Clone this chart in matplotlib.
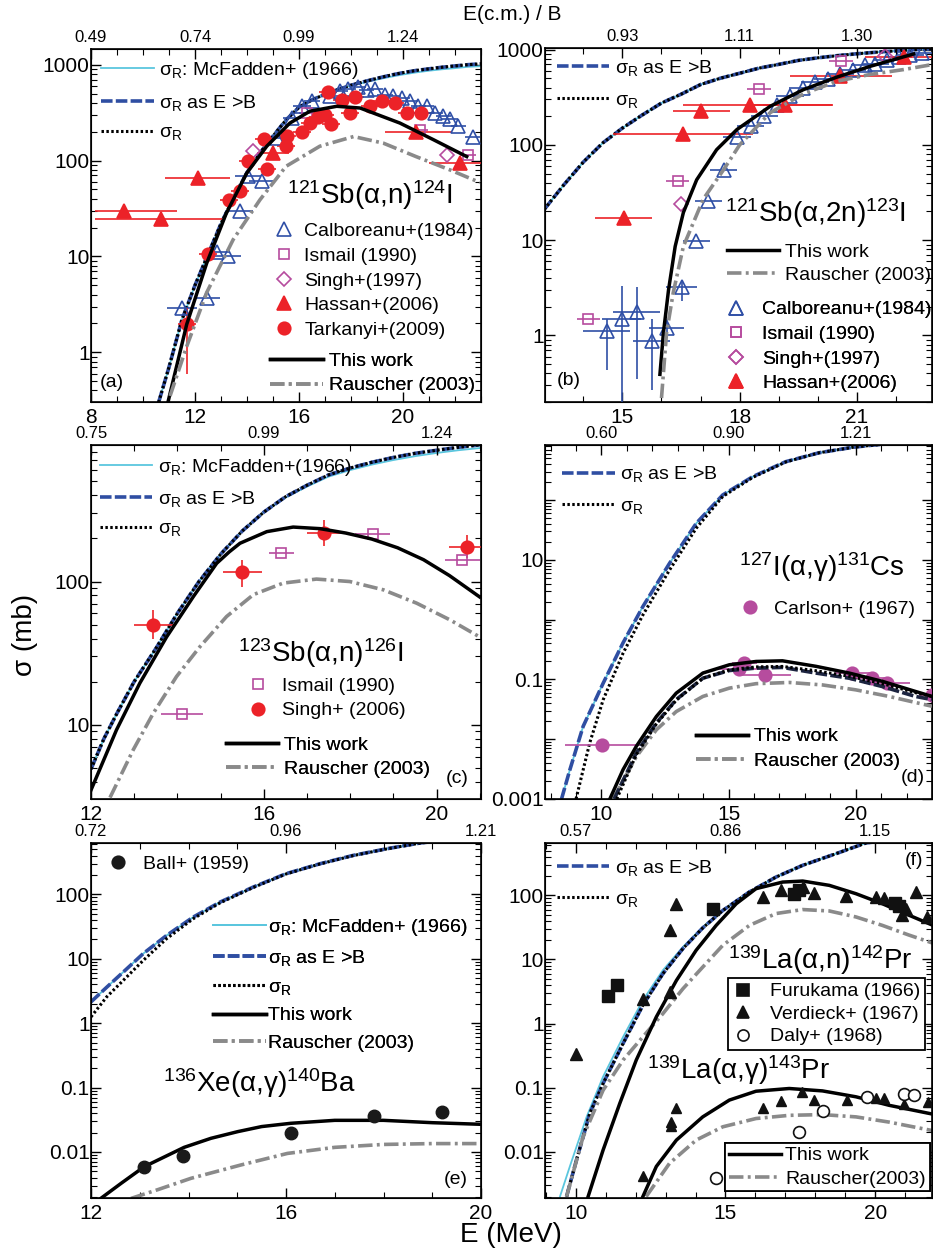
import matplotlib
matplotlib.use('Agg')
import matplotlib.pyplot as plt
from matplotlib.lines import Line2D
from matplotlib.ticker import MultipleLocator, LogLocator, FuncFormatter, NullFormatter

plt.rcParams['font.family'] = ['Liberation Sans', 'DejaVu Sans']
plt.rcParams['mathtext.fontset'] = 'custom'
plt.rcParams['mathtext.rm'] = 'Liberation Sans'
plt.rcParams['mathtext.it'] = 'Liberation Sans:italic'

# ---------------- data (E in MeV, sigma in mb) ----------------
# (a) 121Sb + alpha reaction cross section
a_sig_E = [10.6, 11.0, 11.5, 12.0, 12.5, 13.0, 13.5, 14.0, 14.5, 15.0, 15.5, 16.0, 16.5,
           17.0, 17.5, 18.0, 18.5, 19.0, 19.5, 20.0, 20.5, 21.0, 21.5, 22.0, 22.5, 23.0]
a_sigR = [0.3, 0.7, 2.2, 5.0, 10.5, 22, 42, 75, 120, 180, 265, 360, 430,
          490, 550, 610, 665, 720, 775, 825, 870, 905, 940, 970, 1000, 1020]
a_mcf = [0.3, 0.7, 2.2, 5.0, 10.5, 22, 42, 75, 120, 180, 265, 360, 430,
         490, 550, 605, 650, 700, 745, 790, 830, 865, 895, 920, 950, 965]

# (b) 121Sb + alpha reaction cross section
b_sig_E = [13.0, 13.5, 14.0, 14.5, 15.0, 15.5, 16.0, 16.5, 17.0, 17.5, 18.0, 18.5, 19.0,
           19.5, 20.0, 20.5, 21.0, 21.5, 22.0, 22.5, 23.0]
b_sigR = [21, 38, 66, 105, 150, 205, 275, 340, 430, 500, 565, 640, 700,
          770, 820, 865, 905, 940, 970, 1000, 1020]

# (a) 121Sb(a,n)124I
a_this_E = [10.97, 11.68, 12.45, 13.2, 13.99, 14.76, 15.65, 16.42, 17.45, 18.35, 19.88, 21.17, 22.45]
a_this_s = [0.31, 1.95, 8.5, 28, 74, 141, 246, 327, 368, 353, 246, 165, 110]
a_raus_E = [11.04, 11.68, 12.45, 13.47, 14.5, 15.5, 16.8, 18.1, 19.24, 20.5, 21.8, 22.96]
a_raus_s = [0.35, 1.15, 4.2, 15, 39, 87, 141, 178, 152, 110, 80, 59]
a_calb_E = [11.49, 12.45, 12.83, 13.28, 13.73, 14.05, 14.56, 15.14, 15.72, 16.1, 16.49, 17.19, 17.58,
            17.9, 18.28, 18.6, 18.92, 19.3, 19.63, 19.95, 20.27, 20.59, 20.91, 21.23, 21.55, 21.8, 22.13, 22.68]
a_calb_s = [2.9, 3.7, 11.2, 10, 30, 69, 61, 172, 276, 367, 420, 467, 525,
            560, 590, 550, 560, 485, 467, 450, 415, 373, 367, 313, 290, 270, 232, 178]
a_calb_dx = [0.58, 0.5, 0.5, 0.5, 0.5, 0.5, 0.5, 0.4, 0.35, 0.35, 0.3, 0.3, 0.3,
             0.3, 0.3, 0.3, 0.3, 0.3, 0.3, 0.3, 0.3, 0.3, 0.3, 0.3, 0.3, 0.3, 0.3, 0.3]
a_ism_E = [16.3, 20.65, 22.5]
a_ism_s = [315, 210, 114]
a_sing_E = [14.24, 21.68]
a_sing_s = [125, 115]
a_hass_E = [9.27, 10.69, 12.12, 15.0, 20.5, 22.2]
a_hass_s = [30, 24.5, 66, 120, 200, 94]
a_hass_lo = [1.12, 2.54, 1.27, 0.6, 1.2, 1.2]
a_hass_hi = [2.02, 2.4, 1.23, 0.6, 1.37, 0.8]
a_tark_E = [11.68, 12.5, 13.32, 13.73, 14.05, 14.76, 14.67, 15.5, 15.55, 16.13, 16.42, 16.74,
            17.0, 17.23, 17.13, 17.64, 17.96, 18.15, 18.73, 19.18, 19.69, 20.14, 20.68]
a_tark_s = [1.95, 10.5, 39, 48, 100, 82, 166, 141, 181, 200, 245, 282,
            300, 242, 516, 430, 317, 456, 367, 415, 400, 313, 310]
a_tark_dlo = [1.35, 1.5, 4, 5, 10, 8, 15, 13, 16, 18, 20, 22, 25, 20, 40, 35, 25, 35, 30, 30, 30, 25, 25]
a_tark_dhi = [0.95, 1.5, 4, 5, 10, 8, 15, 13, 16, 18, 20, 22, 25, 20, 40, 35, 25, 35, 30, 30, 30, 25, 25]

# (b) 121Sb(a,2n)123I
b_this_E = [15.96, 16.05, 16.18, 16.35, 16.56, 16.9, 17.41, 17.93, 18.78, 19.63, 20.49, 21.34, 22.45]
b_this_s = [0.39, 1.07, 3.0, 8.6, 19.5, 43, 89, 145, 254, 380, 515, 668, 900]
b_raus_E = [16.0, 16.13, 16.3, 16.56, 17.07, 17.59, 18.0, 18.78, 19.63, 20.49, 21.34, 22.19, 22.92]
b_raus_s = [0.22, 1.07, 2.8, 8.6, 27, 55, 100, 218, 343, 466, 549, 617, 696]
b_calb_E = [14.6, 14.98, 15.37, 15.75, 16.13, 16.52, 16.89, 17.2, 17.59, 17.93, 18.28, 18.63, 18.95,
            19.29, 19.62, 19.93, 20.25, 20.57, 20.89, 21.21, 21.47, 21.77, 22.07, 22.36, 22.66]
b_calb_s = [1.1, 1.5, 1.75, 0.87, 1.2, 3.2, 9.8, 25.7, 55, 121, 157, 200, 265,
            324, 398, 456, 490, 549, 617, 696, 708, 785, 837, 886, 923]
b_calb_dx = [0.6, 0.5, 0.6, 0.47, 0.45, 0.4, 0.35, 0.35, 0.35, 0.35, 0.35, 0.35, 0.35,
             0.35, 0.35, 0.35, 0.35, 0.35, 0.35, 0.35, 0.35, 0.35, 0.35, 0.35, 0.35]
b_calb_lo = [0.67, 1.3, 1.4, 0.6, 0.25, 0.9] + [0] * 19
b_calb_hi = [0.4, 1.8, 1.45, 0.6, 0.3, 0.6] + [0] * 19
b_ism_E = [14.13, 16.41, 18.5, 20.59]
b_ism_s = [1.48, 42, 390, 768]
b_sing_E = [16.49, 21.72]
b_sing_s = [24, 850]
b_hass_E = [15.03, 16.56, 17.0, 18.27, 19.16, 20.57, 22.2]
b_hass_s = [17.2, 129, 225, 265, 265, 534, 837]
b_hass_lo = [0.73, 1.79, 0.7, 1.71, 0.9, 1.27, 1.0]
b_hass_hi = [0.72, 1.79, 0.75, 2.13, 1.2, 1.33, 0.8]

# (c) 123Sb(a,n)126I
sb123_E = [12.0, 12.3, 12.6, 13.0, 13.5, 14.0, 14.5, 15.0, 15.5, 16.0, 16.5, 17.0, 17.5,
           18.0, 18.5, 19.0, 19.5, 20.0, 20.5, 21.0]
sb123_sigR = [4.9, 8.0, 12, 20, 34, 60, 100, 155, 225, 305, 390, 470, 555,
              620, 680, 735, 785, 825, 865, 900]
sb123_mcf = [4.9, 8.0, 12, 20, 34, 60, 100, 155, 225, 305, 385, 460, 540,
             600, 655, 705, 750, 790, 825, 855]
c_this_E = [12.0, 12.59, 13.13, 13.75, 14.37, 14.91, 15.2, 15.45, 16.07, 16.68, 17.3, 17.9, 18.5,
            19.1, 19.7, 20.3, 21.0]
c_this_s = [3.5, 9.2, 19.5, 41, 78.5, 134, 161, 185, 223, 240, 234, 218, 198, 172, 142, 110, 78]
c_raus_E = [12.44, 12.98, 13.44, 13.98, 14.52, 15.14, 15.76, 16.45, 17.22, 17.99, 18.77, 19.54, 20.31, 21.0]
c_raus_s = [3.1, 6.7, 12, 21.7, 35, 57, 81, 97.5, 104, 100, 87.5, 70.6, 54, 41]
c_ism_E = [14.11, 16.41, 18.52, 20.6]
c_ism_s = [11.8, 159, 215, 142]
c_ism_dx = [0.48, 0.3, 0.4, 0.4]
c_sing_E = [13.44, 15.5, 17.39, 20.7]
c_sing_s = [50, 116, 217, 175]
c_sing_dx = [0.45, 0.45, 0.4, 0.4]
c_sing_lo = [10, 24, 40, 30]
c_sing_hi = [13, 26, 50, 35]

# (d) 127I(a,g)131Cs
d_mcf_E = [8.43, 8.76, 9.28, 10.07, 10.85, 11.63, 12.68, 13.73, 14.77, 15.95, 17.25, 18.56, 19.87, 20.65, 23.0]
d_mcf_s = [0.001, 0.0031, 0.0164, 0.087, 0.41, 1.66, 8.8, 41, 122, 247, 440, 620, 763, 830, 1000]
d_sigR_E = [9.0, 9.54, 10.07, 10.85, 11.63, 12.68, 13.73, 14.77, 15.95, 17.25, 18.56, 19.87, 20.65, 23.0]
d_sigR_s = [0.001, 0.0087, 0.046, 0.275, 1.2, 6.8, 34, 115, 240, 435, 620, 763, 830, 1000]
d_this_E = [10.33, 10.85, 11.37, 12.16, 12.94, 13.99, 15.03, 16.08, 17.12, 18.43, 19.74, 21.05, 22.35, 23.0]
d_this_s = [0.001, 0.0031, 0.0076, 0.024, 0.059, 0.128, 0.176, 0.2, 0.205, 0.166, 0.128, 0.093, 0.063, 0.052]
d_eb_E = [10.5, 11.37, 12.16, 12.94, 13.99, 15.03, 16.08, 17.12, 18.43, 19.74, 21.05, 22.35, 23.0]
d_eb_s = [0.001, 0.0059, 0.0187, 0.046, 0.105, 0.141, 0.155, 0.159, 0.128, 0.105, 0.076, 0.052, 0.046]
d_dot_E = [10.6, 11.37, 12.16, 12.94, 13.99, 15.03, 16.08, 17.12, 18.43, 19.74, 21.05, 22.35, 23.0]
d_dot_s = [0.001, 0.0055, 0.018, 0.045, 0.105, 0.145, 0.162, 0.165, 0.14, 0.113, 0.085, 0.06, 0.052]
d_raus_E = [10.46, 11.37, 12.16, 12.94, 13.99, 15.03, 16.08, 17.39, 18.69, 20.0, 21.31, 23.0]
d_raus_s = [0.001, 0.0051, 0.0144, 0.029, 0.052, 0.0716, 0.085, 0.089, 0.081, 0.067, 0.052, 0.0356]
d_carl_E = [10.04, 15.42, 15.62, 16.44, 19.87, 20.65, 21.24, 23.0]
d_carl_s = [0.0081, 0.148, 0.187, 0.12, 0.128, 0.105, 0.087, 0.055]
d_carl_dx = [1.47, 1.0, 0.5, 1.0, 0.7, 0.7, 0.9, 0.5]

# (e) 136Xe(a,g)140Ba
e_E = [12.0, 12.32, 12.66, 13.07, 13.55, 14.1, 14.65, 15.33, 16.0, 16.7, 17.38, 18.07, 18.75, 20.0]
e_mcf_s = [2.14, 3.6, 6.2, 12, 23, 44.5, 76, 130, 209, 299, 403, 511, 627, 800]
e_sigR_s = [1.25, 2.55, 4.6, 9.4, 20.5, 42, 74, 128, 207, 297, 400, 508, 625, 800]
e_this_E = [12.2, 12.62, 13.09, 13.91, 14.46, 15.01, 15.5, 16.1, 17.0, 18.0, 19.0, 20.0]
e_this_s = [0.0019, 0.00327, 0.0059, 0.0118, 0.0163, 0.0207, 0.0248, 0.0279, 0.031, 0.031, 0.0285, 0.0269]
e_raus_E = [12.82, 13.37, 14.05, 15.08, 16.03, 17.0, 18.0, 19.0, 20.0]
e_raus_s = [0.0019, 0.0026, 0.0039, 0.0063, 0.0095, 0.0118, 0.0131, 0.0135, 0.0135]
e_ball_E = [13.09, 13.89, 16.1, 17.8, 19.2]
e_ball_s = [0.0058, 0.0087, 0.0197, 0.0363, 0.0417]

# (f) 139La(a,n)142Pr and 139La(a,g)143Pr
f_mcf_E = [9.47, 9.8, 10.36, 10.91, 11.58, 12.24, 12.91, 13.58, 14.24, 14.91, 15.8, 16.69, 17.58, 18.69, 19.69, 22.0]
f_mcf_s = [0.002, 0.0059, 0.035, 0.148, 0.62, 2.31, 6.8, 15.7, 32, 58, 113, 193, 294, 446, 655, 900]
f_sigR_E = [9.69, 10.02, 10.47, 10.91, 11.58, 12.24, 12.91, 13.58, 14.24, 14.91, 15.8, 16.69, 17.58, 18.69, 19.69, 22.0]
f_sigR_s = [0.002, 0.0074, 0.04, 0.116, 0.49, 1.93, 6.0, 14.8, 31, 58, 113, 193, 294, 446, 655, 900]
fn_this_E = [10.41, 10.91, 11.47, 12.02, 12.69, 13.36, 14.02, 14.69, 15.36, 16.02, 16.91, 17.58,
             18.47, 19.36, 20.24, 21.13, 22.0]
fn_this_s = [0.002, 0.0106, 0.057, 0.27, 1.27, 4.7, 13.9, 34, 74, 127, 161, 167, 143, 106, 74, 49, 33]
fn_raus_E = [9.69, 10.24, 10.91, 11.58, 12.24, 12.91, 13.58, 14.24, 14.91, 15.8, 16.69, 17.58,
             18.47, 19.36, 20.24, 21.13, 22.0]
fn_raus_s = [0.002, 0.017, 0.091, 0.27, 0.62, 1.43, 3.5, 7.6, 16.6, 34, 52, 60, 57, 46, 34, 24, 17.5]
fg_this_E = [12.24, 12.69, 13.36, 14.24, 15.13, 16.02, 17.13, 18.24, 19.36, 20.47, 22.0]
fg_this_s = [0.002, 0.0059, 0.0152, 0.035, 0.064, 0.088, 0.097, 0.089, 0.072, 0.053, 0.038]
fg_raus_E = [12.35, 13.13, 14.02, 14.91, 16.02, 17.13, 18.24, 19.36, 20.47, 22.0]
fg_raus_s = [0.002, 0.0066, 0.0152, 0.0245, 0.033, 0.037, 0.038, 0.035, 0.029, 0.021]
f_furu_E = [11.06, 11.36, 14.58, 17.3, 17.47, 20.67, 20.8]
f_furu_s = [2.67, 3.95, 62, 105, 122, 76, 67]
f_verd_n_E = [10.0, 12.24, 13.13, 13.13, 13.36, 16.24, 16.86, 17.58, 17.97, 19.02, 20.02, 20.3,
              20.91, 21.02, 21.36, 21.74]
f_verd_n_s = [0.34, 2.45, 3.1, 28.5, 74, 94, 120, 135, 109, 96, 94, 92, 50, 62, 113, 46]
f_verd_g_E = [12.24, 13.17, 13.17, 13.36, 16.24, 16.86, 17.56, 17.97, 19.06, 20.02, 20.28, 20.97, 21.77]
f_verd_g_s = [0.0042, 0.0295, 0.025, 0.049, 0.049, 0.062, 0.086, 0.064, 0.065, 0.068, 0.068, 0.055, 0.06]
f_daly_E = [14.67, 17.47, 18.27, 19.74, 20.97, 21.3]
f_daly_s = [0.0039, 0.02, 0.043, 0.072, 0.081, 0.076]

# ---------------- styles ----------------
RED = '#ec2228'
BLUE = '#2f4fa6'
MAG = '#b64c9e'
CYAN = '#5ac6de'
DBLUE = '#2f4ea2'
GRAY = '#8a8a8a'

st_mcf = dict(color=CYAN, lw=1.3)
st_eb = dict(color=DBLUE, lw=2.6, ls=(0, (3.2, 0.9)))
st_sig = dict(color='black', lw=2.2, ls=(0, (0.8, 0.8)))
st_this = dict(color='black', lw=2.5)
st_raus = dict(color=GRAY, lw=2.6, ls=(0, (4.0, 1.2, 0.8, 1.2)))

W, H = 933, 1258
fig = plt.figure(figsize=(W / 100, H / 100), dpi=100)


def panel(l, t, r, b, xlim, ylim, xmajor, toplabels, ylabels=None):
    ax = fig.add_axes([l / W, 1 - b / H, (r - l) / W, (b - t) / H])
    ax.set_yscale('log')
    ax.set_xlim(xlim)
    ax.set_ylim(ylim)
    ax.set_xticks(xmajor)
    ax.xaxis.set_minor_locator(MultipleLocator(1))
    ax.yaxis.set_major_locator(LogLocator(base=10, numticks=20))
    ax.yaxis.set_minor_locator(LogLocator(base=10, subs=range(2, 10), numticks=100))
    ax.yaxis.set_minor_formatter(NullFormatter())

    def fmt(v, p):
        if ylabels is not None and not any(abs(v / y - 1) < 1e-6 for y in ylabels):
            return ''
        return f'{v:g}'
    ax.yaxis.set_major_formatter(FuncFormatter(fmt))
    ax.tick_params(which='both', direction='in', right=True, top=False, labelsize=15)
    ax.tick_params(axis='x', pad=4)
    ax.tick_params(axis='y', pad=1)
    ax.tick_params(which='major', length=7, width=1)
    ax.tick_params(which='minor', length=4, width=0.8)
    for s in ax.spines.values():
        s.set_linewidth(1.2)
    top = ax.twiny()
    top.set_xlim(xlim)
    top.set_xticks(xmajor)
    top.set_xticklabels(toplabels)
    top.xaxis.set_minor_locator(MultipleLocator(1))
    top.tick_params(which='both', direction='in', labelsize=12, pad=3)
    top.tick_params(which='major', length=7, width=1)
    top.tick_params(which='minor', length=4, width=0.8)
    return ax


def legend(ax, items, x, y, hl=2.7, htp=0.3, ls=0.36, fs=14, frame=False, bp=0.0):
    L = ax.legend([h for h, _ in items], [t for _, t in items], loc='upper left',
                  bbox_to_anchor=(x, y), frameon=frame, borderaxespad=0, borderpad=bp,
                  handlelength=hl, handletextpad=htp, labelspacing=ls, fontsize=fs,
                  fancybox=False, edgecolor='black', framealpha=1)
    if frame:
        L.get_frame().set_linewidth(1.3)
    ax.add_artist(L)


def mk(marker, color, ms, fill=True):
    return Line2D([], [], ls='none', marker=marker, ms=ms, mec=color,
                  mfc=color if fill else 'none', mew=1.2)


SIG = r'σ$_\mathrm{R}$'
h_mcf = Line2D([], [], **st_mcf)
h_eb = Line2D([], [], **st_eb)
h_sig = Line2D([], [], **st_sig)
h_this = Line2D([], [], **st_this)
h_raus = Line2D([], [], **st_raus)

h_calb = mk('^', BLUE, 9.5, False)
h_ism = mk('s', MAG, 6.5, False)
h_sing = mk('D', MAG, 7, False)
h_hass = mk('^', RED, 9.5)
h_tark = mk('o', RED, 9)


def ebar(ax, E, s, dx, lo, hi, marker, color, ms, fill=True, zorder=4):
    ax.errorbar(E, s, xerr=dx, yerr=None if lo is None else [lo, hi], fmt=marker, ms=ms,
                mec=color, mfc=color if fill else 'none', mew=1.2, ecolor=color,
                elinewidth=1.2, capsize=0, zorder=zorder)


# ---------------- (a) ----------------
ax = panel(91, 49, 481, 402, (8, 23.0), (0.303, 1457), [8, 12, 16, 20], ['0.49', '0.74', '0.99', '1.24'])
ax.plot(a_sig_E, a_mcf, **st_mcf)
ax.plot(a_sig_E, a_sigR, **st_eb)
ax.plot(a_sig_E, a_sigR, **st_sig)
ebar(ax, a_calb_E, a_calb_s, a_calb_dx, None, None, '^', BLUE, 9.5, False)
ebar(ax, a_ism_E, a_ism_s, 0.3, None, None, 's', MAG, 6.5, False)
ebar(ax, a_sing_E, a_sing_s, None, None, None, 'D', MAG, 7, False)
ebar(ax, a_hass_E, a_hass_s, [a_hass_lo, a_hass_hi], None, None, '^', RED, 9.5)
ebar(ax, a_tark_E, a_tark_s, 0.35, a_tark_dlo, a_tark_dhi, 'o', RED, 9)
ax.plot(a_this_E, a_this_s, zorder=5, **st_this)
ax.plot(a_raus_E, a_raus_s, zorder=5, **st_raus)
legend(ax, [(h_mcf, SIG + ': McFadden+ (1966)'), (h_eb, SIG + ' as E >B'), (h_sig, SIG)], 0.026, 0.968, ls=0.58)
legend(ax, [(h_calb, 'Calboreanu+(1984)'), (h_ism, 'Ismail (1990)'), (h_sing, 'Singh+(1997)'),
            (h_hass, 'Hassan+(2006)'), (h_tark, 'Tarkanyi+(2009)')], 0.47, 0.508, hl=1.0, htp=0.55)
legend(ax, [(h_this, 'This work'), (h_raus, 'Rauscher (2003)')], 0.459, 0.141, htp=0.35)
ax.text(0.715, 0.586, r'$^{121}$Sb(α,n)$^{124}$I', transform=ax.transAxes, fontsize=20, ha='center', va='center')
ax.text(0.023, 0.054, '(a)', transform=ax.transAxes, fontsize=14, ha='left', va='center')

# ---------------- (b) ----------------
ax = panel(545, 48, 932, 402, (13.02, 22.92), (0.2, 1040), [15, 18, 21], ['0.93', '1.11', '1.30'])
ax.plot(b_sig_E, b_sigR, **st_mcf)
ax.plot(b_sig_E, b_sigR, **st_eb)
ax.plot(b_sig_E, b_sigR, **st_sig)
ebar(ax, b_calb_E, b_calb_s, b_calb_dx, b_calb_lo, b_calb_hi, '^', BLUE, 9.5, False)
ebar(ax, b_ism_E, b_ism_s, 0.3, None, None, 's', MAG, 6.5, False)
ebar(ax, b_sing_E, b_sing_s, None, None, None, 'D', MAG, 7, False)
ebar(ax, b_hass_E, b_hass_s, [b_hass_lo, b_hass_hi], None, None, '^', RED, 9.5)
ax.plot(b_this_E, b_this_s, zorder=5, **st_this)
ax.plot(b_raus_E, b_raus_s, zorder=5, **st_raus)
legend(ax, [(h_eb, SIG + ' as E >B'), (h_sig, SIG)], 0.031, 0.971, ls=0.66)
legend(ax, [(h_this, 'This work'), (h_raus, 'Rauscher (2003)')], 0.47, 0.448, htp=0.3, ls=0.29)
legend(ax, [(h_calb, 'Calboreanu+(1984)'), (h_ism, 'Ismail (1990)'), (h_sing, 'Singh+(1997)'),
            (h_hass, 'Hassan+(2006)')], 0.468, 0.286, hl=1.0, htp=0.85)
ax.text(0.70, 0.534, r'$^{121}$Sb(α,2n)$^{123}$I', transform=ax.transAxes, fontsize=20, ha='center', va='center')
ax.text(0.031, 0.06, '(b)', transform=ax.transAxes, fontsize=14, ha='left', va='center')

# ---------------- (c) ----------------
ax = panel(91, 445, 481, 799, (12, 21.03), (3.03, 898), [12, 16, 20], ['0.75', '0.99', '1.24'])
ax.plot(sb123_E, sb123_mcf, **st_mcf)
ax.plot(sb123_E, sb123_sigR, **st_eb)
ax.plot(sb123_E, sb123_sigR, **st_sig)
ebar(ax, c_ism_E, c_ism_s, c_ism_dx, None, None, 's', MAG, 6.5, False)
ebar(ax, c_sing_E, c_sing_s, c_sing_dx, c_sing_lo, c_sing_hi, 'o', RED, 9)
ax.plot(c_this_E, c_this_s, zorder=5, **st_this)
ax.plot(c_raus_E, c_raus_s, zorder=5, **st_raus)
legend(ax, [(h_mcf, SIG + ': McFadden+(1966)'), (h_eb, SIG + ' as E >B'), (h_sig, SIG)], 0.023, 0.966, ls=0.56)
legend(ax, [(h_ism, 'Ismail (1990)'), (mk('o', RED, 9), 'Singh+ (2006)')], 0.403, 0.344, hl=1.0, htp=0.75)
legend(ax, [(h_this, 'This work'), (h_raus, 'Rauscher (2003)')], 0.346, 0.178, htp=0.3)
ax.text(0.59, 0.412, r'$^{123}$Sb(α,n)$^{126}$I', transform=ax.transAxes, fontsize=20, ha='center', va='center')
ax.text(0.967, 0.059, '(c)', transform=ax.transAxes, fontsize=14, ha='right', va='center')

# ---------------- (d) ----------------
ax = panel(545, 445, 932, 799, (7.78, 23.0), (0.001, 836), [10, 15, 20], ['0.60', '0.90', '1.21'],
           ylabels=[0.001, 0.1, 10])
ax.plot(d_mcf_E, d_mcf_s, **st_mcf)
ax.plot(d_mcf_E, d_mcf_s, **st_eb)
ax.plot(d_sigR_E, d_sigR_s, **st_sig)
ebar(ax, d_carl_E, d_carl_s, d_carl_dx, None, None, 'o', MAG, 9)
ax.plot(d_raus_E, d_raus_s, zorder=5, **st_raus)
ax.plot(d_eb_E, d_eb_s, zorder=5, color='#1c2440', lw=2.6, ls=(0, (3.2, 0.9)))
ax.plot(d_dot_E, d_dot_s, zorder=5, **st_sig)
ax.plot(d_this_E, d_this_s, zorder=5, **st_this)
legend(ax, [(h_eb, SIG + ' as E >B'), (h_sig, SIG)], 0.044, 0.945, ls=0.66)
legend(ax, [(mk('o', MAG, 9), 'Carlson+ (1967)')], 0.504, 0.561, hl=1.0, htp=0.75)
legend(ax, [(h_this, 'This work'), (h_raus, 'Rauscher (2003)')], 0.39, 0.201, htp=0.3)
ax.text(0.716, 0.655, r'$^{127}$I(α,γ)$^{131}$Cs', transform=ax.transAxes, fontsize=20, ha='center', va='center')
ax.text(0.982, 0.062, '(d)', transform=ax.transAxes, fontsize=14, ha='right', va='center')

# ---------------- (e) ----------------
ax = panel(91, 843, 481, 1198, (12, 20), (0.00193, 627), [12, 16, 20], ['0.72', '0.96', '1.21'])
ax.plot(e_E, e_mcf_s, **st_mcf)
ax.plot(e_E, e_mcf_s, **st_eb)
ax.plot(e_E, e_sigR_s, **st_sig)
ax.plot(e_this_E, e_this_s, **st_this)
ax.plot(e_raus_E, e_raus_s, **st_raus)
ax.plot(e_ball_E, e_ball_s, 'o', color='#1a1a1a', ms=9, zorder=5)
legend(ax, [(mk('o', '#1a1a1a', 9), 'Ball+ (1959)')], 0.044, 0.965, hl=1.0, htp=0.8)
legend(ax, [(h_mcf, SIG + ': McFadden+ (1966)'), (h_eb, SIG + ' as E >B'), (h_sig, SIG),
            (h_this, 'This work'), (h_raus, 'Rauscher (2003)')], 0.313, 0.792, hl=2.7, htp=0.15, ls=0.52)
ax.text(0.433, 0.324, r'$^{136}$Xe(α,γ)$^{140}$Ba', transform=ax.transAxes, fontsize=20, ha='center', va='center')
ax.text(0.967, 0.051, '(e)', transform=ax.transAxes, fontsize=14, ha='right', va='center')

# ---------------- (f) ----------------
ax = panel(545, 843, 932, 1198, (8.97, 21.9), (0.0019, 655), [10, 15, 20], ['0.57', '0.86', '1.15'])
ax.plot(f_mcf_E, f_mcf_s, **st_mcf)
ax.plot(f_sigR_E, f_sigR_s, **st_eb)
ax.plot(f_sigR_E, f_sigR_s, **st_sig)
ax.plot(fn_raus_E, fn_raus_s, **st_raus)
ax.plot(fg_raus_E, fg_raus_s, **st_raus)
ax.plot(fn_this_E, fn_this_s, **st_this)
ax.plot(fg_this_E, fg_this_s, **st_this)
ax.plot(f_furu_E, f_furu_s, 's', color='#111111', ms=8, zorder=5)
ax.plot(f_verd_n_E, f_verd_n_s, '^', color='#111111', ms=9, zorder=5)
ax.plot(f_verd_g_E, f_verd_g_s, '^', color='#111111', ms=6.5, zorder=5)
ax.plot(f_daly_E, f_daly_s, 'o', mfc='white', mec='#111111', mew=1.2, ms=8.5, zorder=5)
legend(ax, [(h_eb, SIG + ' as E >B'), (h_sig, SIG)], 0.031, 0.957, ls=0.6)
legend(ax, [(mk('s', '#111111', 8), 'Furukama (1966)'), (mk('^', '#111111', 9), 'Verdieck+ (1967)'),
            (mk('o', '#111111', 8, False), 'Daly+ (1968)')], 0.473, 0.62, hl=1.0, htp=0.9, ls=0.25,
       frame=True, bp=0.25)
legend(ax, [(h_this, 'This work'), (h_raus, 'Rauscher(2003)')], 0.465, 0.155, hl=2.7, htp=0.2, ls=0.28,
       frame=True, bp=0.2)
ax.text(0.711, 0.67, r'$^{139}$La(α,n)$^{142}$Pr', transform=ax.transAxes, fontsize=20, ha='center', va='center')
ax.text(0.50, 0.36, r'$^{139}$La(α,γ)$^{143}$Pr', transform=ax.transAxes, fontsize=20, ha='center', va='center')
ax.text(0.977, 0.952, '(f)', transform=ax.transAxes, fontsize=14, ha='right', va='center')

# ---------------- figure labels ----------------
fig.text(512 / W, 1 - 15 / H, 'E(c.m.) / B', fontsize=15, ha='center', va='center')
fig.text(25 / W, 1 - 635 / H, 'σ (mb)', fontsize=20, ha='center', va='center', rotation=90)
fig.text(511 / W, 1 - 1235 / H, 'E (MeV)', fontsize=20, ha='center', va='center')

fig.savefig('out.png', dpi=100)
